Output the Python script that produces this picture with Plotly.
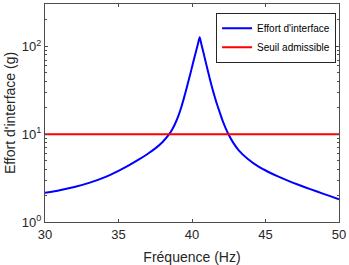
import plotly.graph_objects as go

freq = [30.0, 31.0, 32.0, 33.0, 34.0, 35.0, 35.7, 36.42, 37.0, 37.55, 38.0,
        38.45, 38.63, 38.85, 39.08, 39.27, 39.46, 39.63, 39.80, 39.95, 40.09, 40.2,
        40.29, 40.4, 40.52, 40.63, 40.74, 40.84, 40.95, 41.08, 41.22, 41.37, 41.53,
        41.7, 41.89, 42.1, 42.3, 42.48, 42.8, 43.18, 43.8, 44.53, 45.2, 45.88, 46.8,
        47.68, 48.5, 49.3, 50.0]
effort = [2.148, 2.301, 2.506, 2.793, 3.206, 3.828, 4.413, 5.191, 5.996, 6.982, 8.155,
          10.0, 11.14, 13.16, 16.27, 20.25, 26.11, 33.27, 42.74, 53.68, 66.83, 79.0,
          89.83, 105.9, 126.8, 107.5, 90.51, 77.02, 64.52, 52.48, 42.29, 33.90, 27.18,
          21.91, 17.69, 14.01, 11.60, 10.0, 8.017, 6.556, 5.217, 4.264, 3.711, 3.285, 2.832,
          2.488, 2.222, 1.996, 1.818]
seuil_x = [30, 50]
seuil = [10, 10]

x_ticks = [30, 35, 40, 45, 50]
y_ticks = [1, 10, 100]
y_ticktext = ["10<sup>0</sup>", "10<sup>1</sup>", "10<sup>2</sup>"]
y_minor = [2, 3, 4, 5, 6, 7, 8, 9, 20, 30, 40, 50, 60, 70, 80, 90, 200, 300]

axis_col = "#4d4d4d"
font = "Liberation Sans, Arial, sans-serif"

fig = go.Figure()
fig.add_trace(go.Scatter(x=freq, y=effort, mode="lines", name="Effort d'interface",
                         line=dict(color="#0000ff", width=2, shape="spline", smoothing=0.6)))
fig.add_trace(go.Scatter(x=seuil_x, y=seuil, mode="lines", name="Seuil admissible",
                         line=dict(color="#ff0000", width=2)))

fig.update_layout(
    width=349, height=265,
    margin=dict(l=45, r=8, t=3, b=41),
    paper_bgcolor="white", plot_bgcolor="white",
    font=dict(family=font, color="#262626"),
    showlegend=True,
    legend=dict(x=0.99, y=0.96, xanchor="right", yanchor="top",
                bgcolor="white", bordercolor="#262626", borderwidth=1,
                font=dict(size=10, family=font, color="#000000"),
                tracegroupgap=0, itemwidth=30),
    xaxis=dict(range=[30, 50], tickvals=x_ticks, ticks="inside", ticklen=3,
               showline=True, linecolor=axis_col, linewidth=1, mirror="ticks",
               showgrid=False, zeroline=False, tickcolor=axis_col,
               tickfont=dict(size=13, color="#262626"),
               title=dict(text="Fréquence (Hz)", font=dict(size=14, color="#262626"), standoff=11)),
    yaxis=dict(type="log", range=[0, 2.483], tickvals=y_ticks, ticktext=y_ticktext,
               ticks="inside", ticklen=3, showline=True, linecolor=axis_col, linewidth=1,
               mirror="ticks", showgrid=False, zeroline=False, tickcolor=axis_col,
               tickfont=dict(size=13, color="#262626"),
               minor=dict(ticks="inside", ticklen=2, tickvals=y_minor, tickcolor=axis_col, showgrid=False),
               title=dict(text="Effort d'interface (g)", font=dict(size=14, color="#262626"), standoff=2)),
)

fig.write_html("out.html")
